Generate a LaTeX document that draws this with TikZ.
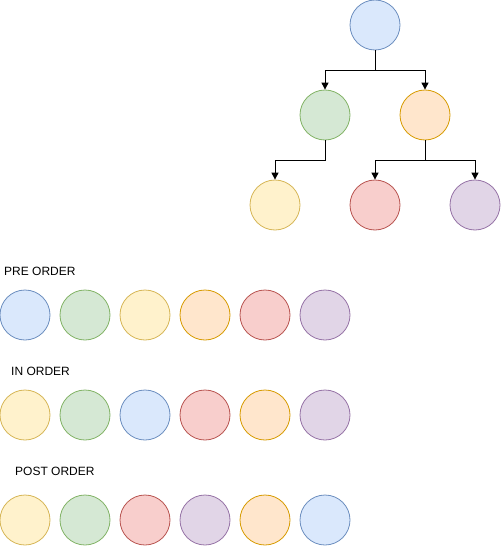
\documentclass[tikz,border=0pt]{standalone}
\usepackage{fontspec}
\setmainfont{Liberation Sans}
\usetikzlibrary{arrows.meta,positioning,calc}
\definecolor{fBlue}{HTML}{DAE8FC}\definecolor{dBlue}{HTML}{6C8EBF}
\definecolor{fGreen}{HTML}{D5E8D4}\definecolor{dGreen}{HTML}{82B366}
\definecolor{fYellow}{HTML}{FFF2CC}\definecolor{dYellow}{HTML}{D6B656}
\definecolor{fOrange}{HTML}{FFE6CC}\definecolor{dOrange}{HTML}{D79B00}
\definecolor{fRed}{HTML}{F8CECC}\definecolor{dRed}{HTML}{B85450}
\definecolor{fPurple}{HTML}{E1D5E7}\definecolor{dPurple}{HTML}{9673A6}
\tikzstyle{nS}=[circle,minimum size = 50pt,inner sep = 0pt,draw, line width=0.8pt]
\tikzstyle{nB}=[nS,fill=fBlue,draw=dBlue]
\tikzstyle{nG}=[nS,fill=fGreen,draw=dGreen]
\tikzstyle{nY}=[nS,fill=fYellow,draw=dYellow]
\tikzstyle{nO}=[nS,fill=fOrange,draw=dOrange]
\tikzstyle{nR}=[nS,fill=fRed,draw=dRed]
\tikzstyle{nP}=[nS,fill=fPurple,draw=dPurple]
\tikzstyle{eS}=[line width=1pt,-{Triangle[length=7pt,width=7pt]}]
\tikzstyle{lS}=[anchor=base west,inner sep=0pt,font=\fontsize{12pt}{14pt}\selectfont]
\begin{document}
\begin{tikzpicture}[x=1pt,y=-1pt]
                \useasboundingbox (0,0) rectangle (501,546);
                % tree
                \draw (375,25) node[nB] (nRoot) {};
                \draw (325,115) node[nG] (nL) {};
                \draw (425,115) node[nO] (nR) {};
                \draw (275,205) node[nY] (nLL) {};
                \draw (375,205) node[nR] (nRL) {};
                \draw (475,205) node[nP] (nRR) {};
                \coordinate (b0) at (375,70);
                \coordinate (b1) at (325,160);
                \coordinate (b2) at (425,160);
                \draw[eS] (nRoot.south) -- (b0) -| (nL.north);
                \draw[eS] (nRoot.south) -- (b0) -| (nR.north);
                \draw[eS] (nL.south) -- (b1) -| (nLL.north);
                \draw[eS] (nR.south) -- (b2) -| (nRL.north);
                \draw[eS] (nR.south) -- (b2) -| (nRR.north);
                % traversals
                \node[lS] (tPre) at (4,275) {PRE ORDER};
                \node[lS] (tIn) at (11,375) {IN ORDER};
                \node[lS] (tPost) at (15,475) {POST ORDER};
                \foreach \s [count=\i from 0] in {nB,nG,nY,nO,nR,nP}
                    \draw (25+60*\i,315) node[\s] (pre\i) {};
                \foreach \s [count=\i from 0] in {nY,nG,nB,nR,nO,nP}
                    \draw (25+60*\i,415) node[\s] (in\i) {};
                \foreach \s [count=\i from 0] in {nY,nG,nR,nP,nO,nB}
                    \draw (25+60*\i,520) node[\s] (post\i) {};
        \end{tikzpicture}
\end{document}
